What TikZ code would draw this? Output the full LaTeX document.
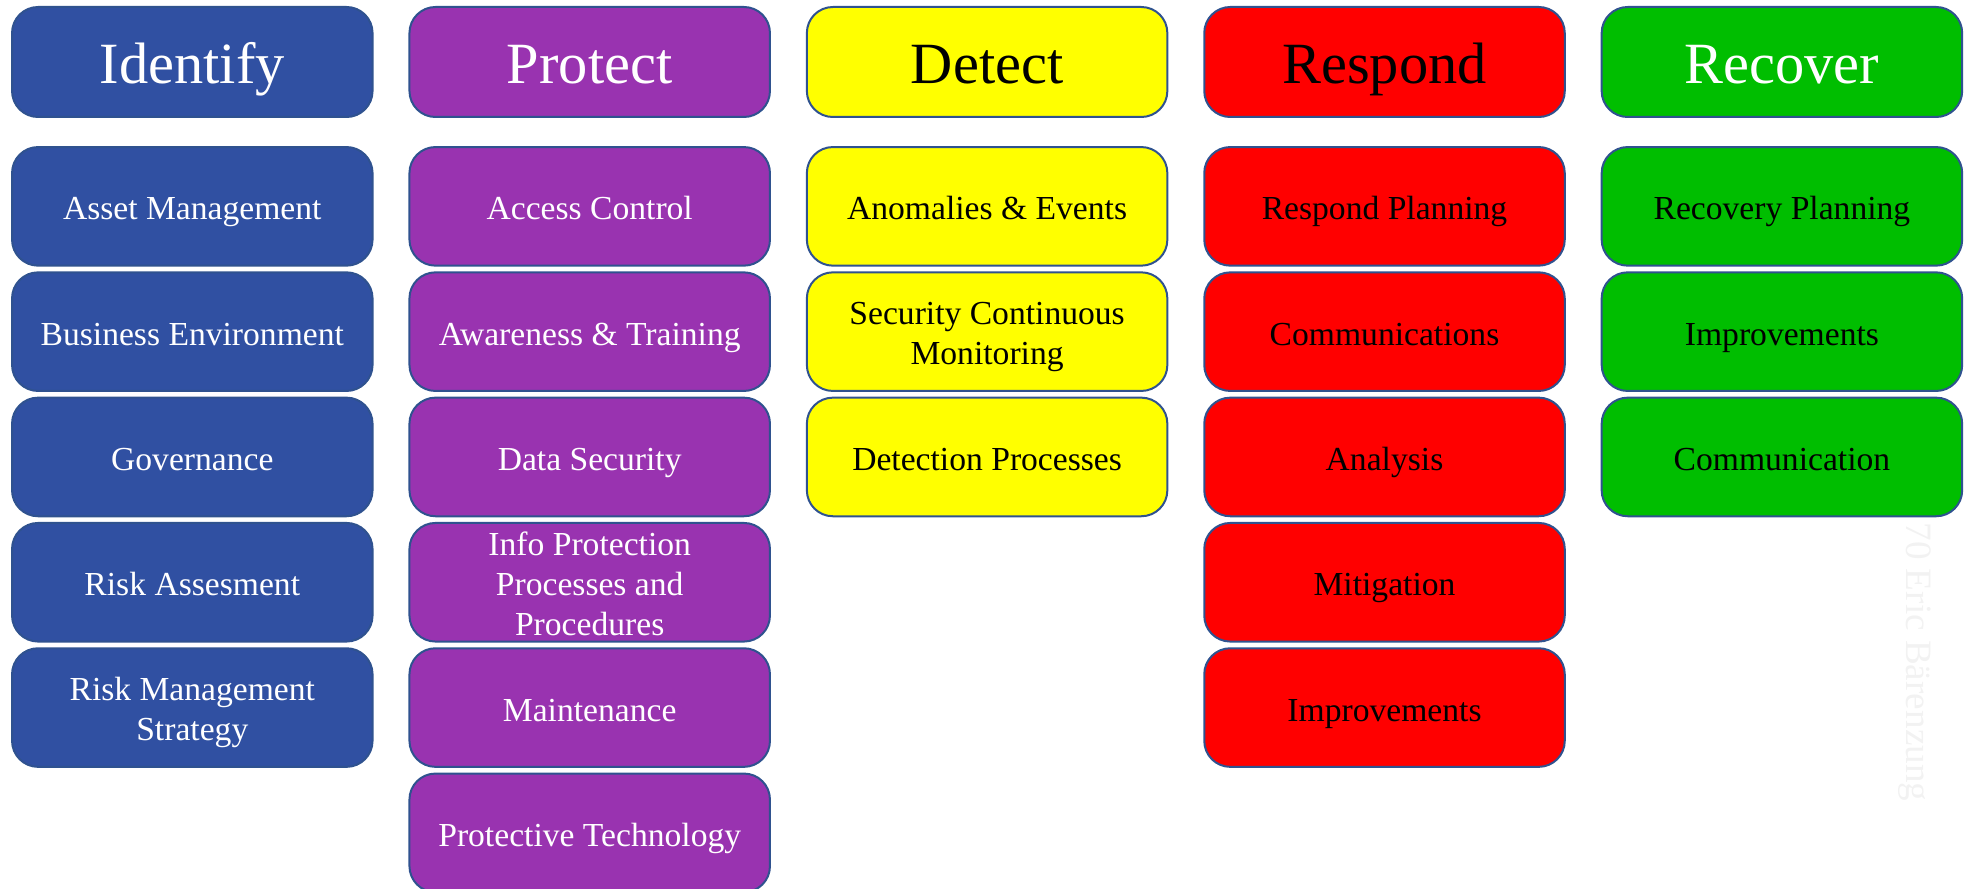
\documentclass[tikz,border=0pt]{standalone}
\usepackage{fontspec}
\setmainfont{Liberation Serif}
\definecolor{edge}{RGB}{47,82,143}
\definecolor{idblue}{RGB}{48,80,162}
\definecolor{prpurple}{RGB}{153,51,176}
\definecolor{deyellow}{RGB}{255,255,0}
\definecolor{rered}{RGB}{255,0,0}
\definecolor{rcgreen}{RGB}{0,190,0}
\definecolor{wmgray}{RGB}{242,242,242}
\begin{document}
\begin{tikzpicture}[x=0.5pt,y=-0.5pt,
  box/.style={draw=edge, line width=1pt, rounded corners=13pt, minimum width=180.25pt, inner sep=0pt, align=center},
  head/.style={box, minimum height=55pt, text height=25pt, text depth=3.7pt, font=\fontsize{29.2}{35}\selectfont},
  cell/.style={box, minimum height=59.3pt, text height=15pt, text depth=1.4pt, font=\fontsize{16.8}{20}\selectfont},
  twoline/.style={text height=35pt, text depth=1.8pt},
  threeline/.style={text height=55pt, text depth=2.25pt},
  idc/.style={fill=idblue, text=white},
  prc/.style={fill=prpurple, text=white},
  dec/.style={fill=deyellow, text=black},
  rec/.style={fill=rered, text=black},
  rcc/.style={fill=rcgreen, text=black}]
\useasboundingbox (0,0) rectangle (1968,888);
\clip (0,0) rectangle (1968,888);
% watermark
\node[rotate=-90, anchor=base west, inner sep=0pt, text=wmgray, font=\fontsize{18.6}{20}\selectfont] (wm) at (1906,522) {70 Eric Bärenzung};
% headers
\node[head, idc] (identify) at (192.3,62) {Identify};
\node[head, prc] (protect) at (589.7,62) {Protect};
\node[head, dec] (detect) at (987.1,62) {Detect};
\node[head, rec] (respond) at (1384.5,62) {Respond};
\node[head, rcc, text=white] (recover) at (1781.9,62) {Recover};
% Identify
\node[cell, idc] (id1) at (192.3,206.35) {Asset Management};
\node[cell, idc] (id2) at (192.3,331.65) {Business Environment};
\node[cell, idc] (id3) at (192.3,456.95) {Governance};
\node[cell, idc] (id4) at (192.3,582.25) {Risk Assesment};
\node[cell, idc, twoline] (id5) at (192.3,707.55) {Risk Management\\Strategy};
% Protect
\node[cell, prc] (pr1) at (589.7,206.35) {Access Control};
\node[cell, prc] (pr2) at (589.7,331.65) {Awareness \& Training};
\node[cell, prc] (pr3) at (589.7,456.95) {Data Security};
\node[cell, prc, threeline] (pr4) at (589.7,582.25) {Info Protection\\Processes and\\Procedures};
\node[cell, prc] (pr5) at (589.7,707.55) {Maintenance};
\node[cell, prc] (pr6) at (589.7,832.85) {Protective Technology};
% Detect
\node[cell, dec] (de1) at (987.1,206.35) {Anomalies \& Events};
\node[cell, dec, twoline] (de2) at (987.1,331.65) {Security Continuous\\Monitoring};
\node[cell, dec] (de3) at (987.1,456.95) {Detection Processes};
% Respond
\node[cell, rec] (re1) at (1384.5,206.35) {Respond Planning};
\node[cell, rec] (re2) at (1384.5,331.65) {Communications};
\node[cell, rec] (re3) at (1384.5,456.95) {Analysis};
\node[cell, rec] (re4) at (1384.5,582.25) {Mitigation};
\node[cell, rec] (re5) at (1384.5,707.55) {Improvements};
% Recover
\node[cell, rcc] (rc1) at (1781.9,206.35) {Recovery Planning};
\node[cell, rcc] (rc2) at (1781.9,331.65) {Improvements};
\node[cell, rcc] (rc3) at (1781.9,456.95) {Communication};
\end{tikzpicture}
\end{document}
